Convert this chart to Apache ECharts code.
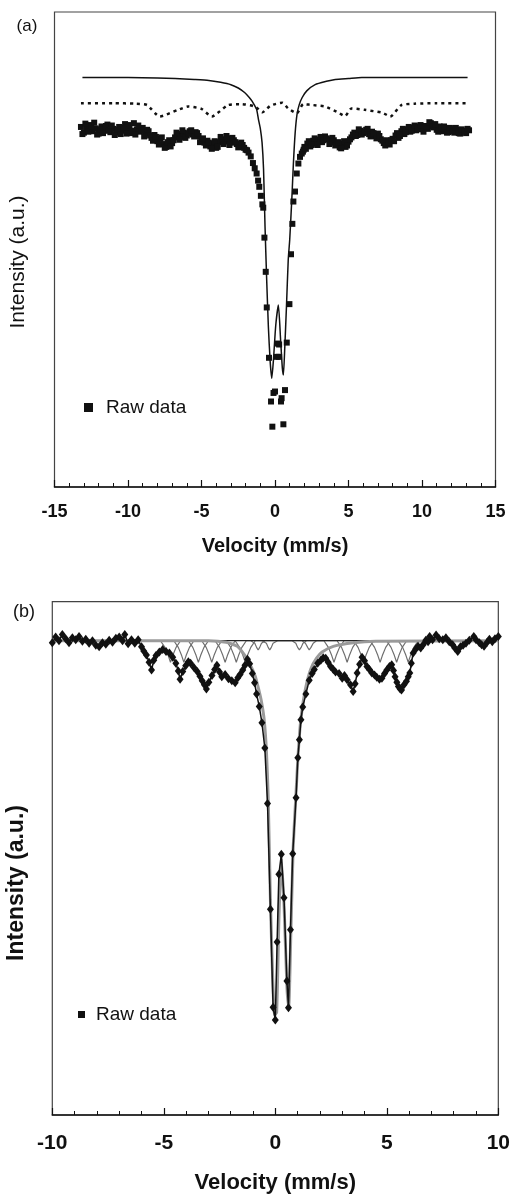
<!DOCTYPE html>
<html><head><meta charset="utf-8">
<script src="https://cdn.jsdelivr.net/npm/echarts/dist/echarts.min.js"></script>
<style>html,body{margin:0;padding:0;background:#fff}#c{width:513px;height:1195px}</style>
</head><body><div id="c"></div>
<script>
// ---------- Panel (a) ----------
const fitA = [[-13.1,86.2],[-10,86.2],[-8,86.1],[-6.8,86.0],[-5.5,85.8],[-4.5,85.6],[-3.7,85.2],[-3.0,84.7],[-2.5,84.0],[-2.05,83.0],[-1.75,82.0],[-1.55,81.2],[-1.4,80.4],[-1.25,79.5],[-1.12,77.3],[-1.0,75.5],[-0.88,72.5],[-0.78,67],[-0.68,55],[-0.57,44],[-0.45,33.7],[-0.33,26.5],[-0.22,22.9],[-0.1,27],[0.05,34],[0.23,38.3],[0.38,31],[0.5,25],[0.57,23.6],[0.66,29],[0.78,38],[0.9,47.8],[1.0,52],[1.15,61],[1.25,68],[1.37,74.5],[1.5,78.5],[1.65,80.5],[1.85,82],[2.16,83.4],[2.73,84.7],[3.5,85.4],[4.1,85.8],[5,86.0],[5.9,86.2],[8,86.2],[13.1,86.2]];
const sextetA = [[-13.2,80.8],[-11,80.8],[-9.5,80.7],[-8.7,80.4],[-7.84,78.0],[-6.6,79.4],[-5.9,80.1],[-5.0,79.6],[-4.3,78.0],[-3.2,80.4],[-2.3,80.6],[-1.36,80.1],[-0.85,78.9],[-0.3,80.3],[0.5,80.9],[0.9,79.7],[1.48,78.7],[1.93,80.6],[2.6,80.4],[3.4,80.1],[4.2,79.0],[4.77,78.1],[5.2,79.7],[6.1,79.4],[7.3,78.8],[7.84,78.0],[8.6,80.4],[9.5,80.7],[11,80.8],[13.1,80.8]];
const rawA = [[-13.2,75.8],[-13.0,74.6],[-12.8,75.6],[-12.6,76.2],[-12.4,74.9],[-12.2,75.5],[-12.0,74.4],[-11.8,75.9],[-11.6,75.1],[-11.4,76.3],[-11.2,74.7],[-11.0,75.4],[-10.8,74.6],[-10.6,75.8],[-10.4,75.0],[-10.2,76.4],[-10.0,75.2],[-9.8,74.5],[-9.6,76.6],[-9.4,75.3],[-9.2,74.8],[-9.0,75.6],[-8.8,74.4],[-8.6,74.9],[-8.4,73.5],[-8.2,74.1],[-8.0,72.8],[-7.8,73.3],[-7.6,72.2],[-7.4,71.6],[-7.2,73.0],[-7.0,72.4],[-6.8,73.6],[-6.6,74.3],[-6.4,73.7],[-6.2,74.6],[-6.0,74.0],[-5.8,74.9],[-5.6,74.2],[-5.4,74.7],[-5.2,73.9],[-5.0,73.1],[-4.8,72.5],[-4.6,72.9],[-4.4,71.7],[-4.2,72.3],[-4.0,71.4],[-3.8,72.6],[-3.6,73.2],[-3.4,72.7],[-3.2,73.4],[-3.0,72.5],[-2.8,73.0],[-2.6,72.2],[-2.4,71.6],[-2.2,72.0],[-2.0,71.0],[-1.8,70.4],[-1.65,69.6],[-1.5,68.2],[-1.38,67.1],[-1.25,66.0],[-1.15,64.5],[-1.07,63.2],[-0.96,61.3],[-0.86,59.5],[-0.8,58.8],[-0.72,52.5],[-0.63,45.3],[-0.56,37.8],[-0.41,27.2],[-0.27,18.0],[-0.18,12.7],[-0.1,19.8],[0.0,20.1],[0.12,27.4],[0.18,30.2],[0.28,30.0],[0.28,27.4],[0.41,18.0],[0.45,18.7],[0.57,13.2],[0.68,20.4],[0.8,30.4],[0.98,38.5],[1.09,49.0],[1.18,55.4],[1.25,60.1],[1.36,62.2],[1.48,66.0],[1.59,68.1],[1.7,69.5],[1.82,70.2],[1.95,71.0],[2.0,71.6],[2.2,72.3],[2.4,71.7],[2.6,72.9],[2.8,72.3],[3.0,73.1],[3.2,72.6],[3.4,73.8],[3.6,73.2],[3.8,72.5],[4.0,73.0],[4.2,72.1],[4.4,71.5],[4.6,72.3],[4.8,71.6],[5.0,72.7],[5.2,73.6],[5.4,74.6],[5.6,74.1],[5.8,75.0],[6.0,74.5],[6.2,75.2],[6.4,74.3],[6.6,74.8],[6.8,73.9],[7.0,74.4],[7.2,73.2],[7.4,72.4],[7.6,73.0],[7.8,72.1],[8.0,73.3],[8.2,74.0],[8.4,73.5],[8.6,74.9],[8.8,74.3],[9.0,75.2],[9.2,74.8],[9.4,75.6],[9.6,75.1],[9.8,75.9],[10.0,75.3],[10.2,76.0],[10.4,75.4],[10.6,76.6],[10.8,75.7],[11.0,75.2],[11.2,75.9],[11.4,74.9],[11.6,75.5],[11.8,74.7],[12.0,75.3],[12.2,74.6],[12.4,75.2],[12.6,74.4],[12.8,75.0],[13.0,74.5],[13.2,75.1]];
const rawA2 = [[-13.1,74.3],[-12.9,76.5],[-12.7,74.8],[-12.5,75.9],[-12.3,76.7],[-12.1,74.2],[-11.9,75.3],[-11.7,74.5],[-11.5,76.0],[-11.3,75.0],[-11.1,76.1],[-10.9,74.1],[-10.7,75.2],[-10.5,74.3],[-10.3,75.6],[-10.1,74.4],[-9.9,76.2],[-9.7,75.0],[-9.5,74.2],[-9.3,76.1],[-9.1,75.0],[-8.9,73.8],[-8.7,75.2],[-8.5,74.0],[-8.3,72.9],[-8.1,73.7],[-7.9,72.1],[-7.7,73.6],[-7.5,71.4],[-7.3,72.6],[-7.1,71.7],[-6.9,73.0],[-6.7,74.6],[-6.5,73.1],[-6.3,75.1],[-6.1,73.5],[-5.9,74.4],[-5.7,75.1],[-5.5,73.8],[-5.3,74.5],[-5.1,72.6],[-4.9,73.4],[-4.7,71.9],[-4.5,72.5],[-4.3,71.2],[-4.1,72.8],[-3.9,71.6],[-3.7,73.7],[-3.5,72.2],[-3.3,73.9],[-3.1,72.0],[-2.9,73.5],[-2.7,72.6],[-2.5,71.5],[-2.3,72.5],[-2.1,71.4],[-1.9,70.9],[1.9,70.6],[2.1,71.2],[2.3,72.8],[2.5,72.0],[2.7,73.4],[2.9,72.0],[3.1,73.7],[3.3,73.0],[3.5,73.4],[3.7,72.2],[3.9,73.5],[4.1,71.9],[4.3,72.6],[4.5,71.3],[4.7,72.8],[4.9,71.9],[5.1,73.2],[5.3,74.2],[5.5,73.9],[5.7,75.3],[5.9,74.2],[6.1,74.8],[6.3,75.4],[6.5,73.8],[6.7,74.5],[6.9,73.4],[7.1,73.9],[7.3,72.9],[7.5,71.9],[7.7,72.6],[7.9,73.0],[8.1,72.8],[8.3,74.5],[8.5,73.9],[8.7,75.4],[8.9,74.7],[9.1,75.8],[9.3,75.0],[9.5,76.1],[9.7,75.4],[9.9,76.2],[10.1,74.8],[10.3,75.9],[10.5,76.8],[10.7,75.9],[10.9,76.4],[11.1,74.8],[11.3,75.5],[11.5,75.9],[11.7,74.6],[11.9,75.6],[12.1,74.9],[12.3,75.6],[12.5,74.5],[12.7,75.3],[12.9,74.8],[13.1,75.4]];

// ---------- Panel (b) ----------
const baselineB = [[-10,92.4],[10,92.4]];
const doubletB = [[-10,92.4],[-3,92.4],[-2.2,92.1],[-1.7,91.3],[-1.36,89.5],[-1.1,87.5],[-0.9,85.5],[-0.75,83],[-0.62,80.5],[-0.5,77],[-0.4,71],[-0.32,62],[-0.22,42],[-0.12,27],[-0.03,19.5],[0.06,20],[0.16,38],[0.27,50],[0.4,40],[0.52,25],[0.6,21],[0.7,36],[0.8,52],[0.92,62],[1.02,70],[1.12,76],[1.25,80.5],[1.4,84],[1.6,87],[1.85,89],[2.1,90.2],[2.6,91.3],[3.5,92],[4.5,92.3],[10,92.4]];
const subB1 = [[-10,92.4],[-5.15,92.4],[-4.95,91.1],[-4.8,89.5],[-4.7,88.2],[-4.6,89.5],[-4.45,91.1],[-4.25,92.4],[-3.9,92.4],[-3.7,91.1],[-3.55,89.5],[-3.45,88.2],[-3.35,89.5],[-3.2,91.1],[-3.0,92.4],[-2.7,92.4],[-2.5,91.1],[-2.35,89.5],[-2.25,88.2],[-2.15,89.5],[-2.0,91.1],[-1.8,92.4],[-1.6,91.1],[-1.45,89.5],[-1.35,88.2],[-1.25,89.5],[-1.1,91.1],[-0.9,92.4],[-0.6,92.4],[-0.4,91.9],[-0.32,91.1],[-0.25,90.6],[-0.18,91.1],[-0.1,91.9],[0.1,92.4],[1.2,92.4],[1.35,91.9],[1.45,91.1],[1.52,90.6],[1.6,91.1],[1.7,91.9],[1.85,92.4],[2.77,92.4],[2.97,91.1],[3.12,89.5],[3.22,88.2],[3.32,89.5],[3.47,91.1],[3.67,92.4],[4.25,92.4],[4.45,91.1],[4.6,89.5],[4.7,88.2],[4.8,89.5],[4.95,91.1],[5.15,92.4],[5.51,92.4],[5.71,91.1],[5.86,89.5],[5.96,88.2],[6.06,89.5],[6.21,91.1],[6.41,92.4],[10,92.4]];
const subB2 = [[-4.55,92.4],[-4.35,91.1],[-4.2,89.5],[-4.1,88.2],[-4.0,89.5],[-3.85,91.1],[-3.65,92.4],[-3.3,92.4],[-3.1,91.1],[-2.95,89.5],[-2.85,88.2],[-2.75,89.5],[-2.6,91.1],[-2.4,92.4],[-2.2,92.4],[-2.0,91.1],[-1.85,89.5],[-1.75,88.2],[-1.65,89.5],[-1.5,91.1],[-1.3,92.4],[-1.1,92.4],[-0.92,91.9],[-0.84,91.1],[-0.77,90.6],[-0.7,91.1],[-0.62,91.9],[-0.45,92.4],[0.75,92.4],[0.92,91.9],[1.0,91.1],[1.08,90.6],[1.16,91.1],[1.24,91.9],[1.4,92.4],[2.18,92.4],[2.38,91.1],[2.53,89.5],[2.63,88.2],[2.73,89.5],[2.88,91.1],[3.08,92.4],[3.51,92.4],[3.71,91.1],[3.86,89.5],[3.96,88.2],[4.06,89.5],[4.21,91.1],[4.41,92.4],[4.99,92.4],[5.19,91.1],[5.34,89.5],[5.44,88.2],[5.54,89.5],[5.69,91.1],[5.89,92.4]];
const rawB = [[-10.0,92.0],[-9.85,93.1],[-9.7,92.4],[-9.55,93.6],[-9.4,92.8],[-9.25,92.0],[-9.1,93.0],[-8.95,92.6],[-8.8,93.2],[-8.65,92.3],[-8.5,92.7],[-8.35,91.9],[-8.2,92.4],[-8.05,91.5],[-7.9,91.2],[-7.75,92.0],[-7.6,91.7],[-7.45,92.5],[-7.3,92.1],[-7.15,92.9],[-7.0,93.1],[-6.85,92.4],[-6.75,93.6],[-6.6,91.8],[-6.45,92.6],[-6.3,91.9],[-6.15,92.6],[-6.0,91.2],[-5.9,90.4],[-5.78,89.6],[-5.66,88.2],[-5.55,86.7],[-5.45,88.6],[-5.35,89.5],[-5.2,90.2],[-5.05,90.7],[-4.9,90.3],[-4.75,90.0],[-4.6,89.2],[-4.46,88.0],[-4.35,86.5],[-4.27,84.9],[-4.15,86.4],[-4.02,87.5],[-3.9,88.3],[-3.8,88.0],[-3.65,87.2],[-3.5,86.4],[-3.38,85.5],[-3.28,84.6],[-3.18,83.8],[-3.09,83.0],[-2.98,84.3],[-2.84,85.6],[-2.72,86.8],[-2.62,87.6],[-2.5,86.3],[-2.4,85.4],[-2.25,85.8],[-2.1,85.0],[-1.95,84.6],[-1.8,84.2],[-1.68,85.2],[-1.58,85.8],[-1.46,86.7],[-1.36,87.6],[-1.25,88.8],[-1.15,87.9],[-1.03,86.0],[-0.93,84.2],[-0.84,82.0],[-0.72,79.6],[-0.6,76.4],[-0.47,71.5],[-0.35,60.7],[-0.22,40.1],[-0.1,21.0],[0.0,18.5],[0.08,33.7],[0.16,46.9],[0.27,50.8],[0.39,42.3],[0.52,26.1],[0.59,20.9],[0.68,36.1],[0.78,50.9],[0.93,61.8],[1.01,69.6],[1.08,73.1],[1.15,77.0],[1.23,79.5],[1.37,82.0],[1.52,84.7],[1.65,86.0],[1.75,86.8],[1.9,88.0],[2.04,88.6],[2.15,89.1],[2.26,89.0],[2.37,88.2],[2.48,87.4],[2.6,86.8],[2.7,86.3],[2.86,86.0],[3.0,85.1],[3.1,85.6],[3.22,84.8],[3.37,83.8],[3.49,82.5],[3.58,84.0],[3.67,86.1],[3.78,87.8],[3.89,89.2],[4.0,88.5],[4.11,87.4],[4.22,86.8],[4.33,86.1],[4.45,85.7],[4.55,85.3],[4.67,84.9],[4.78,85.1],[4.9,86.0],[5.0,86.7],[5.12,87.4],[5.22,87.7],[5.3,86.6],[5.37,85.4],[5.45,84.3],[5.52,83.5],[5.6,83.0],[5.66,82.8],[5.77,83.8],[5.88,84.5],[5.96,85.4],[6.03,86.1],[6.1,88.0],[6.18,90.0],[6.3,90.8],[6.4,91.3],[6.52,91.0],[6.63,91.6],[6.75,92.5],[6.85,92.2],[6.92,93.2],[7.05,92.6],[7.21,93.5],[7.35,92.8],[7.51,92.6],[7.65,93.0],[7.8,92.2],[7.95,91.6],[8.05,91.0],[8.18,90.3],[8.3,91.2],[8.42,91.5],[8.55,91.9],[8.7,92.5],[8.9,93.2],[9.0,92.6],[9.15,92.0],[9.25,91.6],[9.36,91.3],[9.5,92.1],[9.6,92.7],[9.73,92.2],[9.85,92.8],[10.0,93.2]];

const FONT = '"Liberation Sans", Arial, Helvetica, sans-serif';
const INK = '#111';

function xAxisCfg(grid, min, max, labelSize, labelMargin, nameSize, nameGap) {
  return {
    gridIndex: grid, type: 'value', min: min, max: max, interval: 5,
    axisLine: { onZero: false, lineStyle: { color: INK, width: 1.5 } },
    axisTick: { inside: true, length: 7, lineStyle: { color: INK, width: 1.2 } },
    minorTick: { show: true, splitNumber: 5, length: 4, lineStyle: { color: INK, width: 1 } },
    splitLine: { show: false },
    axisLabel: { margin: labelMargin, color: INK, fontSize: labelSize, fontWeight: 'bold', fontFamily: FONT },
    name: 'Velocity (mm/s)', nameLocation: 'middle', nameGap: nameGap,
    nameTextStyle: { color: INK, fontSize: nameSize, fontWeight: 'bold', fontFamily: FONT }
  };
}

const chart = echarts.init(document.getElementById('c'), null, { renderer: 'canvas' });
chart.setOption({
  animation: false,
  backgroundColor: '#fff',
  grid: [
    { left: 54.5, top: 12, width: 441, height: 475, show: true, borderColor: '#444', borderWidth: 1.2 },
    { left: 52.3, top: 601.7, width: 451, height: 515, show: true, borderColor: '#444', borderWidth: 1.2 }
  ],
  xAxis: [
    xAxisCfg(0, -15, 15, 18, 16, 20, 49),
    xAxisCfg(1, -10, 10, 21, 18, 22, 57)
  ],
  yAxis: [
    { gridIndex: 0, type: 'value', min: 0, max: 100, show: false },
    { gridIndex: 1, type: 'value', min: 0, max: 100, show: false }
  ],
  legend: [
    { data: [{ name: 'Raw data', icon: 'rect' }], left: 84, top: 398, itemWidth: 9, itemHeight: 9, padding: 0, selectedMode: false,
      textStyle: { color: INK, fontSize: 19, fontFamily: FONT, padding: [0, 0, 0, 8] } },
    { data: [{ name: 'Raw data', icon: 'rect' }], left: 78, top: 1005, itemWidth: 7, itemHeight: 7, padding: 0, selectedMode: false,
      textStyle: { color: INK, fontSize: 19, fontFamily: FONT, padding: [0, 0, 0, 6] } }
  ],
  graphic: [
    { type: 'text', x: 27, y: 26, style: { text: '(a)', font: '17px ' + FONT, fill: INK, align: 'center', verticalAlign: 'middle' } },
    { type: 'text', x: 24, y: 612, style: { text: '(b)', font: '18px ' + FONT, fill: INK, align: 'center', verticalAlign: 'middle' } },
    { type: 'text', x: 18, y: 262, rotation: Math.PI / 2, style: { text: 'Intensity (a.u.)', font: '21px ' + FONT, fill: INK, align: 'center', verticalAlign: 'middle' } },
    { type: 'text', x: 17, y: 883, rotation: Math.PI / 2, style: { text: 'Intensity (a.u.)', font: 'bold 23px ' + FONT, fill: INK, align: 'center', verticalAlign: 'middle' } }
  ],
  series: [
    { type: 'line', xAxisIndex: 0, yAxisIndex: 0, data: sextetA, showSymbol: false, smooth: 0.2,
      lineStyle: { color: INK, width: 2.5, type: [3, 4] }, z: 2 },
    { type: 'line', xAxisIndex: 0, yAxisIndex: 0, data: fitA, showSymbol: false, smooth: 0.2,
      lineStyle: { color: INK, width: 1.5 }, z: 3 },
    { type: 'scatter', name: 'Raw data', xAxisIndex: 0, yAxisIndex: 0, data: rawA, symbol: 'rect', symbolSize: 6,
      itemStyle: { color: INK, opacity: 1 }, z: 4 },
    { type: 'scatter', xAxisIndex: 0, yAxisIndex: 0, data: rawA2, symbol: 'rect', symbolSize: 6,
      itemStyle: { color: INK, opacity: 1 }, z: 4 },

    { type: 'line', xAxisIndex: 1, yAxisIndex: 1, data: subB1, showSymbol: false,
      lineStyle: { color: '#6e6e6e', width: 1.2 }, z: 2 },
    { type: 'line', xAxisIndex: 1, yAxisIndex: 1, data: subB2, showSymbol: false,
      lineStyle: { color: '#6e6e6e', width: 1.2 }, z: 2 },
    { type: 'line', xAxisIndex: 1, yAxisIndex: 1, data: baselineB, showSymbol: false,
      lineStyle: { color: '#222', width: 1.3 }, z: 3 },
    { type: 'line', xAxisIndex: 1, yAxisIndex: 1, data: doubletB, showSymbol: false, smooth: 0.2,
      lineStyle: { color: '#9a9a9a', width: 3 }, z: 3 },
    { type: 'line', name: 'Raw data', xAxisIndex: 1, yAxisIndex: 1, data: rawB, symbol: 'diamond', symbolSize: [7, 9],
      showAllSymbol: true, itemStyle: { color: INK, opacity: 1 }, lineStyle: { color: INK, width: 1.5 }, z: 5 }
  ]
});
</script></body></html>
